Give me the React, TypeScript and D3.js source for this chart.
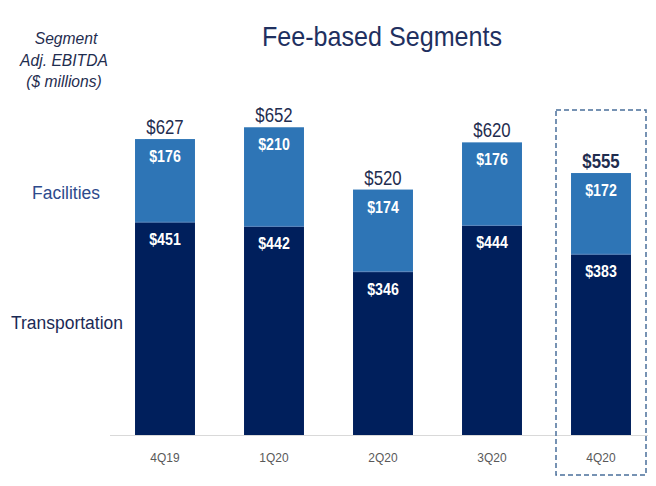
import React from "react";
import * as d3 from "d3";

const categories = ["4Q19", "1Q20", "2Q20", "3Q20", "4Q20"];
const transportation = [451, 442, 346, 444, 383];
const facilities = [176, 210, 174, 176, 172];
const totals = [627, 652, 520, 620, 555];

const W = 656;
const H = 486;

export default function App() {
  const x = d3.scaleBand<string>().domain(categories).range([110.5, 655.5]).paddingInner(0.45).paddingOuter(0.225);
  const y = d3.scaleLinear().domain([0, 700]).range([435, 435 - 700 * 0.472]);
  const font = "'Liberation Sans', Arial, sans-serif";
  const navy = "#001f5c";
  const light = "#2e75b6";
  const hx = x("4Q20")! + x.bandwidth() / 2;
  const sx = (cx: number, s: number) => `translate(${cx},0) scale(${s},1) translate(${-cx},0)`;
  return (
    <svg width={W} height={H} style={{ position: "absolute", left: 0, top: 0 }} fontFamily={font}>
      <rect width={W} height={H} fill="#fff" />
      <text x={382} y={46} textAnchor="middle" fontSize={27} fill="#1f3060" transform={sx(382, 0.93)}>Fee-based Segments</text>
      <g fontStyle="italic" fontSize={17} fill="#1f2d4f" textAnchor="middle">
        <text x={66} y={44} transform={sx(66, 0.92)}>Segment</text>
        <text x={64} y={66} transform={sx(64, 0.92)}>Adj. EBITDA</text>
        <text x={64} y={87} transform={sx(64, 0.92)}>($ millions)</text>
      </g>
      <text x={66} y={199} textAnchor="middle" fontSize={19} fill="#2d4a8c" transform={sx(66, 0.92)}>Facilities</text>
      <text x={67} y={329} textAnchor="middle" fontSize={19} fill="#1b2a55" transform={sx(67, 0.92)}>Transportation</text>
      <line x1={110} x2={648} y1={435.5} y2={435.5} stroke="#d9d9d9" strokeWidth={1.2} />
      {categories.map((c, i) => {
        const bx = x(c)!;
        const bw = x.bandwidth();
        const cx = bx + bw / 2;
        const tTop = y(transportation[i]);
        const fTop = y(transportation[i] + facilities[i]);
        const isLast = i === categories.length - 1;
        return (
          <g key={c}>
            <rect x={bx} y={tTop} width={bw} height={y(0) - tTop} fill={navy} />
            <rect x={bx} y={fTop} width={bw} height={tTop - fTop} fill={light} />
            <line x1={bx} x2={bx + bw} y1={tTop} y2={tTop} stroke="#5a86bd" strokeWidth={1} />
            <text x={cx} y={fTop + 23} textAnchor="middle" fontSize={16.5} fontWeight="bold" fill="#fff" transform={sx(cx, 0.86)}>${facilities[i]}</text>
            <text x={cx} y={tTop + 23} textAnchor="middle" fontSize={16.5} fontWeight="bold" fill="#fff" transform={sx(cx, 0.86)}>${transportation[i]}</text>
            <text x={cx} y={fTop - 5} textAnchor="middle" fontSize={21} fontWeight={isLast ? "bold" : "normal"} fill="#1f2d4f" transform={sx(cx, 0.8)}>${totals[i]}</text>
            <text x={cx} y={462} textAnchor="middle" fontSize={13} fill="#595959" transform={sx(cx, 0.92)}>{c}</text>
          </g>
        );
      })}
      <rect x={hx - 45} y={110} width={90} height={365} fill="none" stroke="#4a6f9a" strokeWidth={1.5} strokeDasharray="5,3" />
    </svg>
  );
}
